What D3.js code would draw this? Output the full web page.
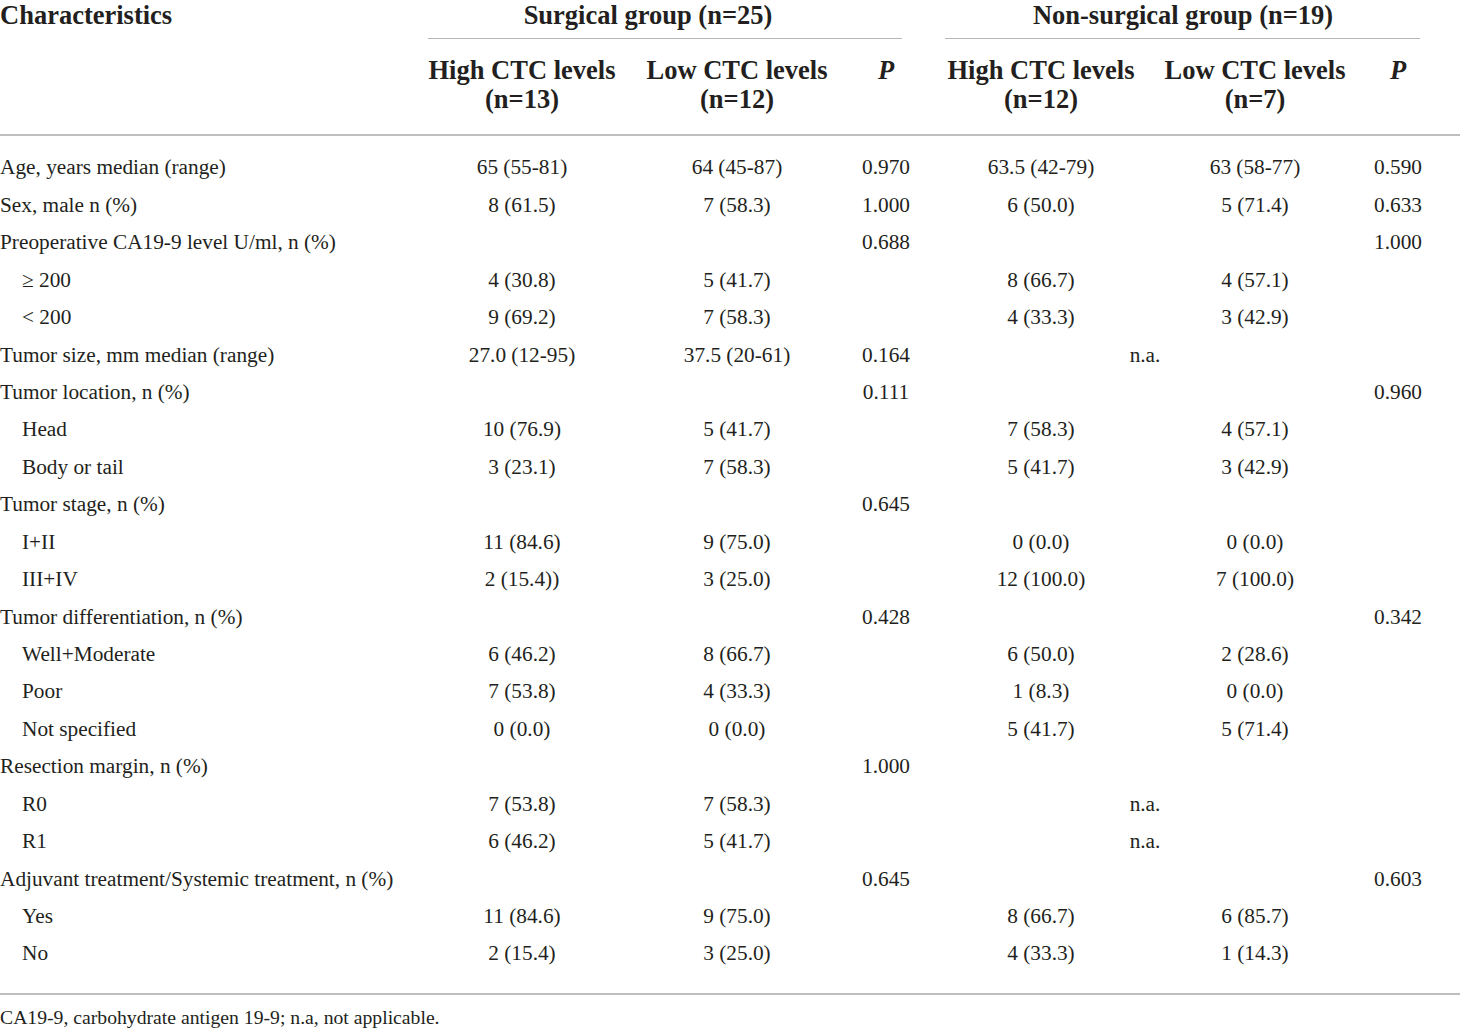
<!DOCTYPE html>
<html><head><meta charset="utf-8">
<script src="https://cdn.jsdelivr.net/npm/d3@7"></script>
<style>
html,body{margin:0;padding:0;background:#fff;}
svg{display:block;}
</style></head>
<body>
<svg id="chart" width="1460" height="1028"></svg>
<script>
const groups = ["Surgical group (n=25)", "Non-surgical group (n=19)"];
const subHeaders = [["High CTC levels","(n=13)"],["Low CTC levels","(n=12)"],["P",""],["High CTC levels","(n=12)"],["Low CTC levels","(n=7)"],["P",""]];
const characteristics = ["Age, years median (range)","Sex, male n (%)","Preoperative CA19-9 level U/ml, n (%)","≥ 200","< 200","Tumor size, mm median (range)","Tumor location, n (%)","Head","Body or tail","Tumor stage, n (%)","I+II","III+IV","Tumor differentiation, n (%)","Well+Moderate","Poor","Not specified","Resection margin, n (%)","R0","R1","Adjuvant treatment/Systemic treatment, n (%)","Yes","No"];
const indent = [0,0,0,1,1,0,0,1,1,0,1,1,0,1,1,1,0,1,1,0,1,1];
const surgHigh = ["65 (55-81)","8 (61.5)","","4 (30.8)","9 (69.2)","27.0 (12-95)","","10 (76.9)","3 (23.1)","","11 (84.6)","2 (15.4))","","6 (46.2)","7 (53.8)","0 (0.0)","","7 (53.8)","6 (46.2)","","11 (84.6)","2 (15.4)"];
const surgLow = ["64 (45-87)","7 (58.3)","","5 (41.7)","7 (58.3)","37.5 (20-61)","","5 (41.7)","7 (58.3)","","9 (75.0)","3 (25.0)","","8 (66.7)","4 (33.3)","0 (0.0)","","7 (58.3)","5 (41.7)","","9 (75.0)","3 (25.0)"];
const surgP = ["0.970","1.000","0.688","","","0.164","0.111","","","0.645","","","0.428","","","","1.000","","","0.645","",""];
const nonHigh = ["63.5 (42-79)","6 (50.0)","","8 (66.7)","4 (33.3)","","","7 (58.3)","5 (41.7)","","0 (0.0)","12 (100.0)","","6 (50.0)","1 (8.3)","5 (41.7)","","","","","8 (66.7)","4 (33.3)"];
const nonLow = ["63 (58-77)","5 (71.4)","","4 (57.1)","3 (42.9)","","","4 (57.1)","3 (42.9)","","0 (0.0)","7 (100.0)","","2 (28.6)","0 (0.0)","5 (71.4)","","","","","6 (85.7)","1 (14.3)"];
const nonP = ["0.590","0.633","1.000","","","","0.960","","","","","","0.342","","","","","","","0.603","",""];
const nonNA = ["","","","","","n.a.","","","","","","","","","","","","n.a.","n.a.","","",""];
const footnote = "CA19-9, carbohydrate antigen 19-9; n.a, not applicable.";

const svg = d3.select("#chart");
const ink = "#231f20";
const font = "'Liberation Serif', 'Times New Roman', serif";
const headSize = 26.5, bodySize = 21.3;

const y = d3.scalePoint().domain(d3.range(characteristics.length)).range([167, 953]);
const colX = d3.scaleOrdinal().domain(["sh","sl","sp","nh","nl","np","na"]).range([522, 737, 886, 1041, 1255, 1398, 1145]);
const groupX = d3.scaleOrdinal().domain(groups).range([648, 1183]);
const groupLine = d3.scaleOrdinal().domain(groups).range([[428, 902],[945, 1420]]);

// header
svg.append("text").attr("x", 0).attr("y", 24).text("Characteristics")
  .attr("font-family", font).attr("font-weight", "bold").attr("font-size", headSize).attr("fill", ink);

groups.forEach(g => {
  svg.append("text").attr("x", groupX(g)).attr("y", 24).attr("text-anchor", "middle").text(g)
    .attr("font-family", font).attr("font-weight", "bold").attr("font-size", headSize).attr("fill", ink);
  const [a, b] = groupLine(g);
  svg.append("line").attr("x1", a).attr("x2", b).attr("y1", 38.5).attr("y2", 38.5)
    .attr("stroke", "#b5b5b5").attr("stroke-width", 1.2);
});

const keys = ["sh","sl","sp","nh","nl","np"];
subHeaders.forEach((h, i) => {
  const x = colX(keys[i]);
  const t = svg.append("text").attr("x", x).attr("y", 79).attr("text-anchor", "middle").text(h[0])
    .attr("font-family", font).attr("font-weight", "bold").attr("font-size", headSize).attr("fill", ink);
  if (h[0] === "P") t.attr("font-style", "italic");
  if (h[1]) svg.append("text").attr("x", x).attr("y", 108).attr("text-anchor", "middle").text(h[1])
    .attr("font-family", font).attr("font-weight", "bold").attr("font-size", headSize).attr("fill", ink);
});

svg.append("line").attr("x1", 0).attr("x2", 1460).attr("y1", 135).attr("y2", 135)
  .attr("stroke", "#a8a8a8").attr("stroke-width", 1.6);
svg.append("line").attr("x1", 0).attr("x2", 1460).attr("y1", 994).attr("y2", 994)
  .attr("stroke", "#a8a8a8").attr("stroke-width", 1.6);

// body
const rows = svg.append("g").attr("font-family", font).attr("font-size", bodySize).attr("fill", ink);
characteristics.forEach((c, i) => {
  rows.append("text").attr("x", indent[i] ? 22 : 0).attr("y", y(i)).attr("dy", "0.35em").text(c);
  const cells = [["sh", surgHigh[i]],["sl", surgLow[i]],["sp", surgP[i]],["nh", nonHigh[i]],["nl", nonLow[i]],["np", nonP[i]],["na", nonNA[i]]];
  cells.forEach(([k, v]) => {
    if (!v) return;
    rows.append("text").attr("x", colX(k)).attr("y", y(i)).attr("dy", "0.35em")
      .attr("text-anchor", "middle").text(v);
  });
});

svg.append("text").attr("x", 0).attr("y", 1017).attr("dy", "0.35em").text(footnote)
  .attr("font-family", font).attr("font-size", 19.7).attr("fill", ink);
</script>
</body></html>
